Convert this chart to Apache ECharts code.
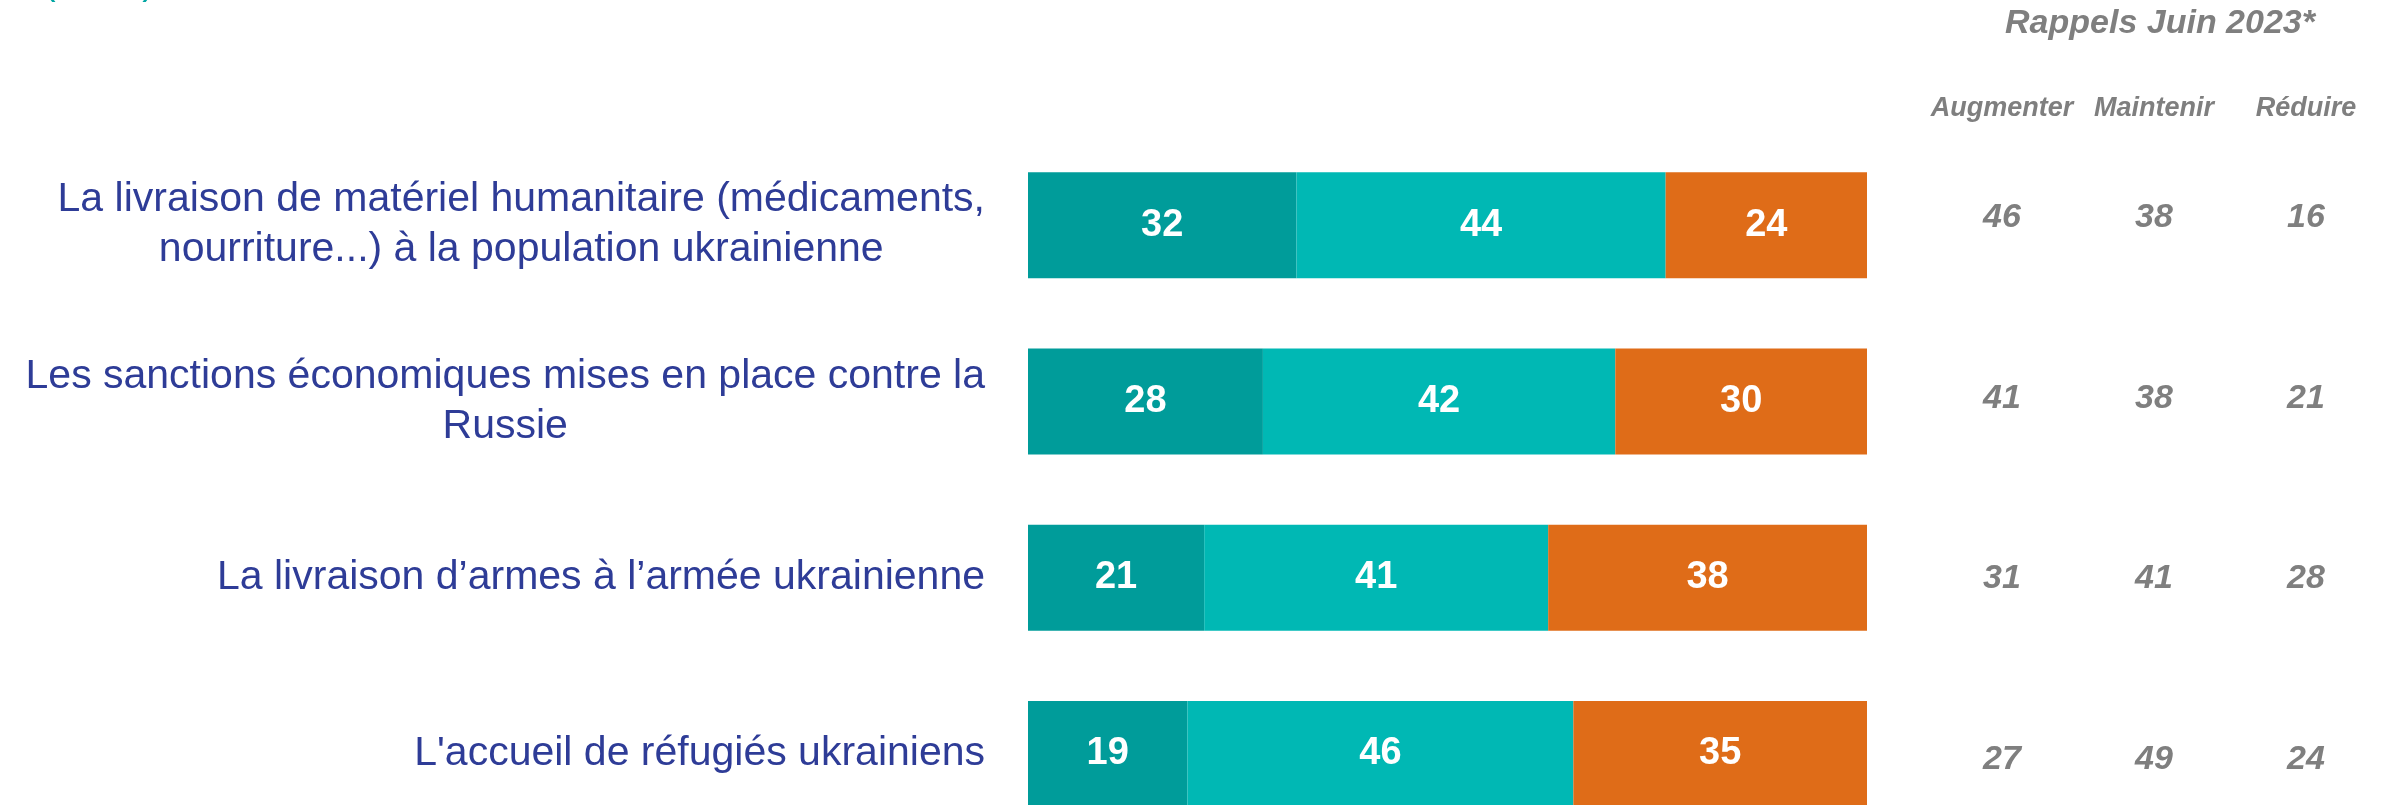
<!DOCTYPE html>
<html>
<head>
<meta charset="utf-8">
<script src="https://cdn.jsdelivr.net/npm/echarts@6/dist/echarts.min.js"></script>
<style>
  html, body { margin: 0; padding: 0; background: #fff; }
  #chart { width: 2384px; height: 805px; }
</style>
</head>
<body>
<div id="chart"></div>
<script>
// Categories (top to bottom)
var categories = [
    'La livraison de matériel humanitaire (médicaments,\nnourriture...) à la population ukrainienne',
    'Les sanctions économiques mises en place contre la\nRussie',
    'La livraison d\u2019armes à l\u2019armée ukrainienne',
    'L\'accueil de réfugiés ukrainiens'
];

// Current values (%)
var augmenter = [32, 28, 21, 19];
var maintenir = [44, 42, 41, 46];
var reduire = [24, 30, 38, 35];

// Reminder: June 2023
var rappelColumns = ['Augmenter', 'Maintenir', 'Réduire'];
var rappelAugmenter = [46, 41, 31, 27];
var rappelMaintenir = [38, 38, 41, 49];
var rappelReduire = [16, 21, 28, 24];

var chartDom = document.getElementById('chart');
var myChart = echarts.init(chartDom);

// build [column, row, value] points for the reminder table
var rappelPoints = [];
[rappelAugmenter, rappelMaintenir, rappelReduire].forEach(function (arr, col) {
    arr.forEach(function (v, row) {
        rappelPoints.push([col, row, v]);
    });
});

var barLabel = {
    show: true,
    position: 'inside',
    color: '#ffffff',
    fontSize: 38,
    fontWeight: 'bold',
    fontFamily: 'Liberation Sans'
};

function barSeries(name, data, color) {
    return {
        name: name,
        type: 'bar',
        stack: 'total',
        xAxisIndex: 0,
        yAxisIndex: 0,
        barWidth: 106,
        data: data,
        itemStyle: { color: color },
        label: barLabel,
        emphasis: { disabled: true }
    };
}

var option = {
    animation: false,
    title: [{
        text: '(en %)',
        left: 38,
        top: -40,
        textStyle: { color: '#00A6A3', fontSize: 38, fontWeight: 'normal', fontFamily: 'Liberation Sans' }
    }, {
        text: 'Rappels Juin 2023*',
        left: 2155,
        top: 2,
        textAlign: 'center',
        textStyle: { color: '#7F7F7F', fontSize: 34, fontWeight: 'bold', fontStyle: 'italic', fontFamily: 'Liberation Sans' }
    }],
    grid: [
        { left: 1028, width: 839, top: 137, height: 705, containLabel: false, outerBoundsMode: 'none' },
        { left: 1926, width: 456, top: 127, height: 723, containLabel: false, outerBoundsMode: 'none' }
    ],
    xAxis: [{
        gridIndex: 0,
        type: 'value',
        min: 0,
        max: 100,
        show: false
    }, {
        gridIndex: 1,
        type: 'category',
        position: 'top',
        data: rappelColumns,
        axisLine: { show: false },
        axisTick: { show: false },
        splitLine: { show: false },
        axisLabel: {
            interval: 0,
            margin: 5,
            color: '#7F7F7F',
            fontSize: 27,
            fontWeight: 'bold',
            fontStyle: 'italic',
            fontFamily: 'Liberation Sans'
        }
    }],
    yAxis: [{
        gridIndex: 0,
        type: 'category',
        inverse: true,
        data: categories,
        axisLine: { show: false },
        axisTick: { show: false },
        splitLine: { show: false },
        axisLabel: {
            interval: 0,
            margin: 43,
            formatter: function (value) {
                return value.split('\n').map(function (s) { return '{c|' + s + '}'; }).join('\n');
            },
            rich: {
                c: {
                    align: 'center',
                    color: '#2E3C97',
                    fontSize: 41,
                    lineHeight: 50,
                    fontFamily: 'Liberation Sans'
                }
            }
        }
    }, {
        gridIndex: 1,
        type: 'category',
        inverse: true,
        data: categories,
        show: false
    }],
    series: [
        barSeries('Augmenter', augmenter, '#009C9A'),
        barSeries('Maintenir', maintenir, '#00B8B4'),
        barSeries('Réduire', reduire, '#DF6C18'),
        {
            type: 'scatter',
            xAxisIndex: 1,
            yAxisIndex: 1,
            data: rappelPoints,
            symbolSize: 0,
            itemStyle: { color: '#7F7F7F', opacity: 1 },
            label: {
                show: true,
                position: 'inside',
                formatter: function (p) { return p.value[2]; },
                color: '#7F7F7F',
                fontSize: 34,
                fontWeight: 'bold',
                fontStyle: 'italic',
                fontFamily: 'Liberation Sans'
            },
            emphasis: { disabled: true }
        }
    ]
};

myChart.setOption(option);
</script>
</body>
</html>
